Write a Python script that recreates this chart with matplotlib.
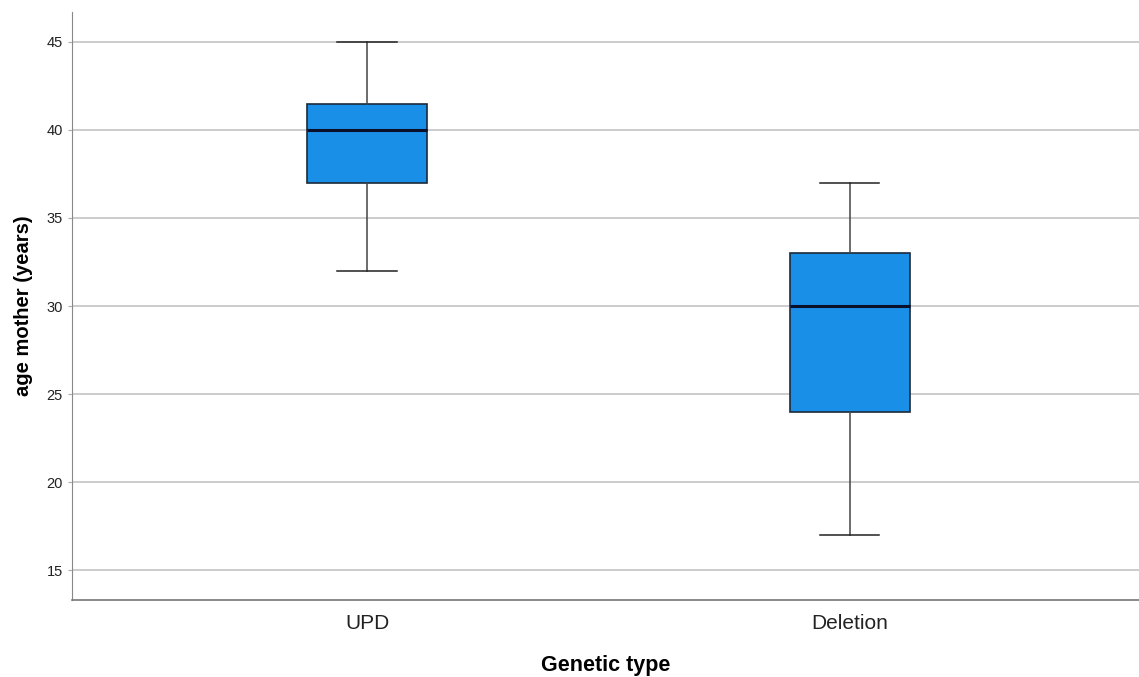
import matplotlib
matplotlib.use("Agg")
import matplotlib.pyplot as plt

plt.rcParams['font.family'] = ['Liberation Sans', 'DejaVu Sans']

categories = ["UPD", "Deletion"]
whisker_low = [32, 17]
q1 = [37, 24]
median = [40, 30]
q3 = [41.5, 33]
whisker_high = [45, 37]
y_ticks = [15, 20, 25, 30, 35, 40, 45]

fig = plt.figure(figsize=(11.39, 6.77), dpi=100)
ax = fig.add_axes([0.0632, 0.1137, 0.9368, 0.8686])

stats = []
for i, c in enumerate(categories):
    stats.append(dict(label=c, whislo=whisker_low[i], q1=q1[i], med=median[i],
                      q3=q3[i], whishi=whisker_high[i], fliers=[]))

ax.bxp(stats, positions=range(len(categories)), widths=0.249, capwidths=0.124,
       patch_artist=True, showfliers=False,
       boxprops=dict(facecolor='#1a8fe8', edgecolor='#1c2a3a', linewidth=1.2),
       medianprops=dict(color='#0a0f2a', linewidth=2.2),
       whiskerprops=dict(color='#444444', linewidth=1.1),
       capprops=dict(color='#222222', linewidth=1.1), zorder=3)

ax.set_xlim(-0.612, 1.60)
ax.set_ylim(13.30, 46.70)
ax.set_yticks(y_ticks)
ax.yaxis.grid(True, color='#c4c4c4', linewidth=1.2, zorder=0)
ax.set_axisbelow(True)

for s in ['top', 'right']:
    ax.spines[s].set_visible(False)
ax.spines['left'].set_color('#888888')
ax.spines['bottom'].set_color('#777777')
ax.spines['bottom'].set_linewidth(1.2)

ax.tick_params(axis='y', labelsize=10.5, length=3, color='#aaaaaa', labelcolor='#222222')
ax.tick_params(axis='x', labelsize=15, length=0, pad=10, labelcolor='#222222')
ax.set_xticks(range(len(categories)))
ax.set_xticklabels(categories)

ax.set_ylabel("age mother (years)", fontsize=14.5, fontweight='bold', labelpad=10)
ax.set_xlabel("Genetic type", fontsize=15.5, fontweight='bold', labelpad=16)

fig.savefig("out.png", dpi=100)
